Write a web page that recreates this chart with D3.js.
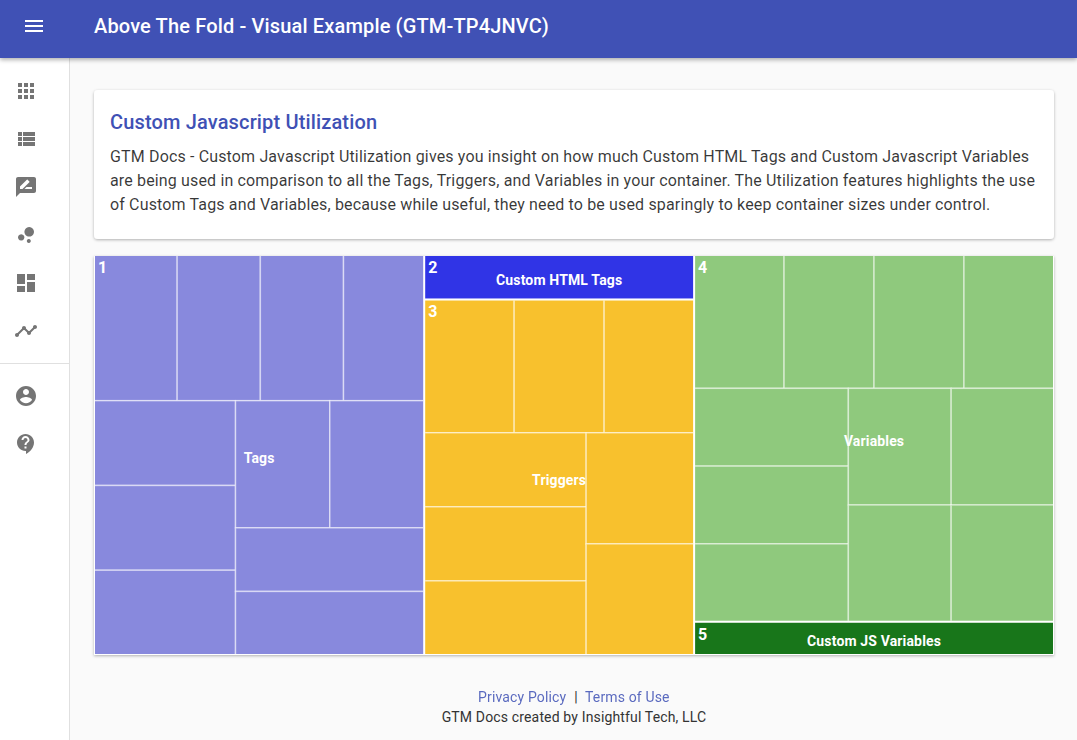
<!DOCTYPE html>
<html><head><meta charset="utf-8">
<script src="https://cdnjs.cloudflare.com/ajax/libs/d3/7.8.5/d3.min.js"></script>
<style>
html,body{margin:0;padding:0;background:#fafafa;overflow:hidden}
svg{display:block;font-family:Roboto,sans-serif;letter-spacing:.15px}
</style></head><body>
<svg id="c" width="1077" height="740"></svg>
<script>
const headerTitle = "Above The Fold - Visual Example (GTM-TP4JNVC)";
const cardTitle = "Custom Javascript Utilization";
const cardLines = [
 "GTM Docs - Custom Javascript Utilization gives you insight on how much Custom HTML Tags and Custom Javascript Variables",
 "are being used in comparison to all the Tags, Triggers, and Variables in your container. The Utilization features highlights the use",
 "of Custom Tags and Variables, because while useful, they need to be used sparingly to keep container sizes under control."];
const groupNames = ["Tags","Custom HTML Tags","Triggers","Variables","Custom JS Variables"];
const groupColors = ["#8889dd","#3034e6","#f8c12d","#8fc97d","#18761a"];
// each leaf is one container item (value about 1); nesting alternates rows and columns
const tagsCells = [[1.01,1.01,1.01,.98],[[1,1,1],[[1,1],1,1]]];
const htmlCells = [1];
const triggerCells = [[1,1,1],[[1,1,1],[1,1]]];
const variableCells = [[1,1,1,1],[[1,1,1],[[1,1],[1,1]]]];
const jsCells = [1];
const columns = [[[tagsCells]],[htmlCells,[triggerCells]],[[variableCells],jsCells]];
const iconPaths = [
 "M4 8h4V4H4v4zm6 12h4v-4h-4v4zm-6 0h4v-4H4v4zm0-6h4v-4H4v4zm6 0h4v-4h-4v4zm6-10v4h4V4h-4zm-6 4h4V4h-4v4zm6 6h4v-4h-4v4zm0 6h4v-4h-4v4z",
 "M4 14h4v-4H4v4zm0 5h4v-4H4v4zM4 9h4V5H4v4zm5 5h12v-4H9v4zm0 5h12v-4H9v4zM9 5v4h12V5H9z",
 "M20 2H4c-1.1 0-2 .9-2 2v18l4-4h14c1.1 0 2-.9 2-2V4c0-1.1-.9-2-2-2zM6 14v-2.47l6.88-6.88c.2-.2.51-.2.71 0l1.77 1.77c.2.2.2.51 0 .71L8.47 14H6zm12 0h-7.5l2-2H18v2z",
 "M7.2 11.2a3.2 3.2 0 1 0 .001 0zM14.8 16a2 2 0 1 0 .001 0zM15.2 4a4.8 4.8 0 1 0 .001 0z",
 "M3 13h8V3H3v10zm0 8h8v-6H3v6zm10 0h8V11h-8v10zm0-18v6h8V3h-8z",
 "M23 8c0 1.1-.9 2-2 2-.18 0-.35-.02-.51-.07l-3.56 3.55c.05.16.07.34.07.52 0 1.1-.9 2-2 2s-2-.9-2-2c0-.18.02-.36.07-.52l-2.55-2.55c-.16.05-.34.07-.52.07s-.36-.02-.52-.07l-4.55 4.56c.05.16.07.33.07.51 0 1.1-.9 2-2 2s-2-.9-2-2 .9-2 2-2c.18 0 .35.02.51.07l4.56-4.55C8.02 9.36 8 9.18 8 9c0-1.1.9-2 2-2s2 .9 2 2c0 .18-.02.36-.07.52l2.55 2.55c.16-.05.34-.07.52-.07s.36.02.52.07l3.55-3.56C19.02 8.35 19 8.18 19 8c0-1.1.9-2 2-2s2 .9 2 2z",
 "M12 2C6.48 2 2 6.48 2 12s4.48 10 10 10 10-4.48 10-10S17.52 2 12 2zm0 3c1.66 0 3 1.34 3 3s-1.34 3-3 3-3-1.34-3-3 1.34-3 3-3zm0 14.2c-2.5 0-4.71-1.28-6-3.22.03-1.99 4-3.08 6-3.08 1.99 0 5.97 1.09 6 3.08-1.29 1.94-3.5 3.22-6 3.22z",
 "M11.5 2C6.81 2 3 5.81 3 10.5S6.81 19 11.5 19h.5v3c4.86-2.34 8-7 8-11.5C20 5.81 16.19 2 11.5 2zm1 14.5h-2v-2h2v2zm0-3.5h-2c0-3.25 3-3 3-5 0-1.1-.9-2-2-2s-2 .9-2 2h-2c0-2.21 1.79-4 4-4s4 1.79 4 4c0 2.5-3 2.75-3 5z"];
const iconCentres = [91,139,187,235,283,331,396,444];

const svg = d3.select("#c");
const defs = svg.append("defs");
const mkShadow = (id,dy,sd,op)=>{const f=defs.append("filter").attr("id",id).attr("x","-5%").attr("y","-20%").attr("width","110%").attr("height","150%");
  f.append("feDropShadow").attr("dx",0).attr("dy",dy).attr("stdDeviation",sd).attr("flood-color","#000").attr("flood-opacity",op);};
mkShadow("hs",2,2,.3); mkShadow("cs",1,1.5,.3);

// sidebar
svg.append("rect").attr("x",0).attr("y",58).attr("width",69).attr("height",682).attr("fill","#fff");
svg.append("line").attr("x1",69.5).attr("x2",69.5).attr("y1",58).attr("y2",740).attr("stroke","#e0e0e0");
svg.append("line").attr("x1",0).attr("x2",69).attr("y1",363.5).attr("y2",363.5).attr("stroke","#e0e0e0");
svg.selectAll("path.icon").data(iconPaths).join("path").attr("class","icon")
  .attr("d",d=>d).attr("fill","#757575")
  .attr("transform",(d,i)=>`translate(14,${iconCentres[i]-12})`);

// header
svg.append("rect").attr("width",1077).attr("height",58).attr("fill","#3f51b5").attr("filter","url(#hs)");
svg.append("path").attr("d","M3 18h18v-2H3v2zm0-5h18v-2H3v2zm0-7v2h18V6H3z").attr("fill","#fff").attr("transform","translate(22,14)");
svg.append("text").attr("x",94).attr("y",33).attr("fill","#fff").attr("font-size",20).attr("font-weight",500).text(headerTitle);

// card
svg.append("rect").attr("x",94).attr("y",90).attr("width",960).attr("height",149).attr("rx",4).attr("fill","#fff").attr("filter","url(#cs)");
svg.append("text").attr("x",110).attr("y",129).attr("fill","#3f51b5").attr("font-size",20).attr("font-weight",500).text(cardTitle);
svg.selectAll("text.line").data(cardLines).join("text").attr("class","line")
  .attr("x",110).attr("y",(d,i)=>162+24*i).attr("fill","rgba(0,0,0,.78)").attr("font-size",16).text(d=>d);

// treemap
svg.append("rect").attr("x",94).attr("y",256).attr("width",960).attr("height",399).attr("fill","#fff").attr("filter","url(#cs)");
const tile = (node,x0,y0,x1,y1)=> (node.depth%2 ? d3.treemapSlice : d3.treemapDice)(node,x0,y0,x1,y1);
const root = d3.hierarchy(columns,d=>Array.isArray(d)?d:null).sum(d=>typeof d==="number"?d:0);
d3.treemap().tile(tile).size([960,400]).round(false)(root);
const groups = root.descendants().filter(n=>n.depth===2);
const color = d3.scaleOrdinal().domain(groupNames).range(groupColors);
groups.forEach((g,i)=>g.gname=groupNames[i]);
const chart = svg.append("g").attr("transform","translate(94,255)");
const gs = chart.selectAll("g.group").data(groups).join("g").attr("class","group");
const clipId = (d,i)=>"clip"+i;
defs.selectAll("clipPath").data(groups).join("clipPath").attr("id",clipId)
  .append("rect").attr("x",d=>d.x0+1).attr("y",d=>d.y0+1).attr("width",d=>d.x1-d.x0-2).attr("height",d=>d.y1-d.y0-2);
gs.append("g").attr("clip-path",(d,i)=>`url(#${clipId(d,i)})`)
  .selectAll("rect").data(g=>g.leaves().map(l=>({l,g}))).join("rect")
  .attr("x",d=>d.l.x0).attr("y",d=>d.l.y0)
  .attr("width",d=>d.l.x1-d.l.x0).attr("height",d=>d.l.y1-d.l.y0)
  .attr("fill",d=>color(d.g.gname)).attr("stroke","rgba(255,255,255,.5)").attr("stroke-width",1.5);
gs.append("text").attr("x",d=>d.x0+4).attr("y",d=>d.y0+18).attr("fill","#fff").attr("font-size",16).attr("font-weight",700)
  .text((d,i)=>i+1);
gs.append("text").attr("x",d=>(d.x0+d.x1)/2).attr("y",d=>(d.y0+d.y1)/2+7.5).attr("text-anchor","middle")
  .attr("fill","#fff").attr("font-size",14).attr("font-weight",700).text(d=>d.gname);

// footer
const foot = svg.append("g").attr("font-size",14);
foot.append("text").attr("x",478).attr("y",702).attr("fill","#3f51b5").attr("opacity",.85).text("Privacy Policy");
foot.append("text").attr("x",576).attr("y",702).attr("text-anchor","middle").attr("fill","#333").text("|");
foot.append("text").attr("x",585).attr("y",702).attr("fill","#3f51b5").attr("opacity",.85).text("Terms of Use");
foot.append("text").attr("x",574).attr("y",722).attr("text-anchor","middle").attr("fill","#333").text("GTM Docs created by Insightful Tech, LLC");
</script>
</body></html>
